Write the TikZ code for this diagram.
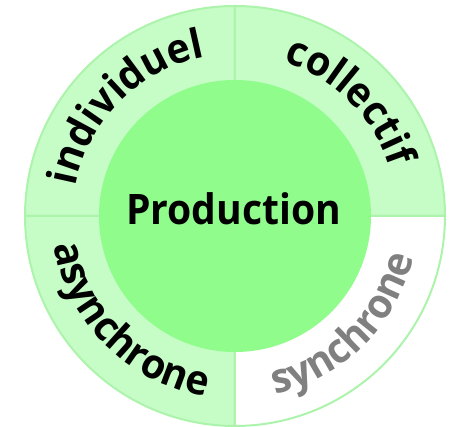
\documentclass[tikz,border=0pt]{standalone}
\usepackage{fontspec}
\setmainfont{Open Sans}
\usetikzlibrary{decorations.text}

\definecolor{ringgreen}{RGB}{198,252,198}
\definecolor{coregreen}{RGB}{144,252,140}
\definecolor{edgegreen}{RGB}{172,244,172}
\definecolor{ringgray}{RGB}{128,128,128}
\newcommand{\ringfont}{\fontsize{41}{41}\selectfont\bfseries\addfontfeatures{FakeStretch=0.96}}
\newcommand{\corefont}{\fontsize{42}{42}\selectfont\bfseries\addfontfeatures{FakeStretch=0.93}}

\tikzset{
	sector/.style={fill=ringgreen, draw=edgegreen, line width=2pt},
	ringtext/.style={postaction={decorate}, decoration={text along path, text align=center, text format delimiters={|}{|}, text={|\ringfont|#1}}},
}

\begin{document}
\begin{tikzpicture}[x=1pt,y=1pt]

	\useasboundingbox (-235,-211) rectangle (215,216);

	% outer ring, four quarters
	\draw[sector] (0,0) -- (180:210) arc (180:90:210) -- cycle;
	\draw[sector] (0,0) -- (90:210) arc (90:0:210) -- cycle;
	\draw[sector] (0,0) -- (180:210) arc (180:270:210) -- cycle;
	\draw[sector, fill=white] (0,0) -- (270:210) arc (270:360:210) -- cycle;

	% inner disc
	\node[circle, fill=coregreen, minimum size=272pt, inner sep=0pt] (core) at (0,0) {};
	\node[anchor=base] (prod) at (-1.5,-9) {\corefont Production};

	% texts along the ring
	\path[ringtext=individuel] (180:162) arc (180:90:162);
	\path[ringtext=collectif] (90:162) arc (90:0:162);
	\path[ringtext=asynchrone] (180:183) arc (180:270:183);
	\path[ringtext=synchrone, decoration={text color=ringgray}] (270:183) arc (270:360:183);

\end{tikzpicture}
\end{document}
